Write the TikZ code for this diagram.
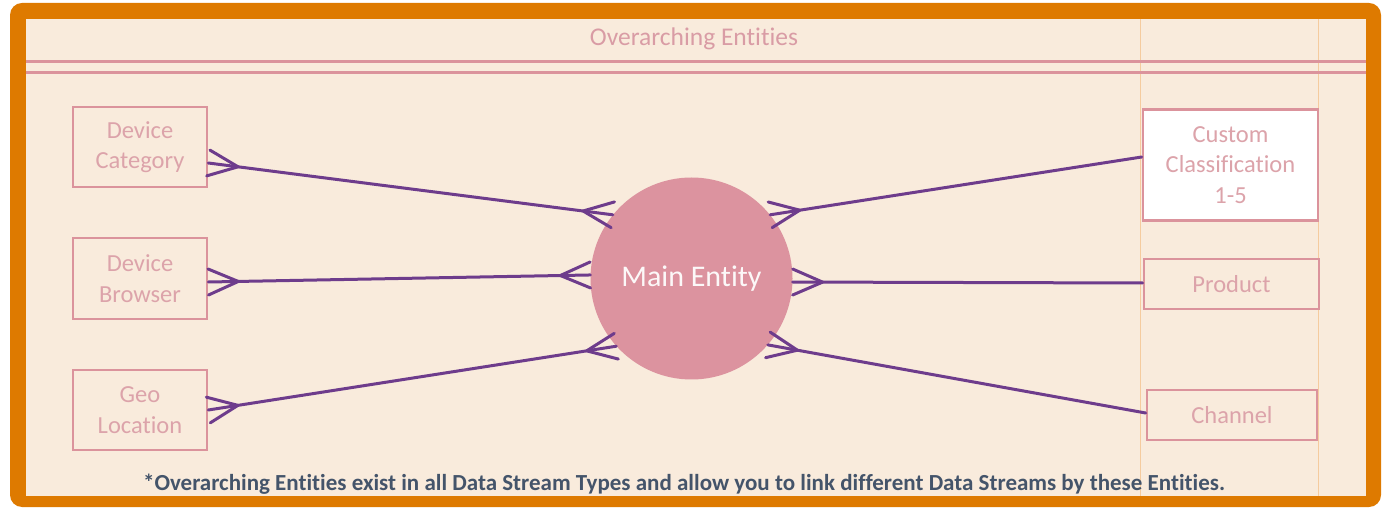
\documentclass[tikz,border=0pt]{standalone}
\usepackage{fontspec}
\setmainfont{Carlito}[RawFeature={-liga}]
\usetikzlibrary{calc}
\definecolor{frameorange}{HTML}{DE7A00}
\definecolor{cream}{HTML}{F9EBDC}
\definecolor{pinkline}{HTML}{DB939C}
\definecolor{pinktext}{HTML}{DCA3AA}
\definecolor{circfill}{HTML}{DC939F}
\definecolor{linkpurple}{HTML}{6E3C8C}
\definecolor{titlepink}{HTML}{D99CA5}
\definecolor{notecol}{HTML}{44546A}
\definecolor{guide}{HTML}{F5CB9E}
\tikzset{
  ent/.style={draw=pinkline, line width=2.6pt, text=pinktext, align=center, inner sep=0pt,
    font=\fontsize{24.5}{30.5}\selectfont},
  link/.style={draw=linkpurple, line width=3pt, line cap=round, line join=round},
}
\newcommand\crowfoot[2]{%
  \draw[link] ($(#1)!30pt!(#2)$) -- ($(#1)!13pt!90:(#2)$)
              ($(#1)!30pt!(#2)$) -- ($(#1)!13pt!-90:(#2)$);}
\begin{document}
\begin{tikzpicture}[x=1pt,y=-1pt]
\useasboundingbox (0,0) rectangle (1390,510);
% frame
\fill[frameorange, rounded corners=12pt] (10,3) rectangle (1381,507);
\fill[cream] (26,19) rectangle (1366,496);
% faint guides
\draw[guide, line width=0.6pt] (1140,19) -- (1140,496);
\draw[guide, line width=0.6pt] (1318,19) -- (1318,496);
% title and double rule
\node[text=titlepink, font=\fontsize{25.5}{30}\selectfont] (title) at (694,39) {Overarching Entities};
\draw[pinkline, line width=3pt] (26,62) -- (1366,62);
\draw[pinkline, line width=3pt] (26,73) -- (1366,73);
% entities
\node[ent, minimum width=134pt, minimum height=80pt] (dc) at (140,147) {Device\\Category};
\node[ent, minimum width=134pt, minimum height=81pt] (db) at (140,278.5) {Device\\Browser};
\node[ent, minimum width=134pt, minimum height=80pt] (geo) at (140,410) {Geo\\Location};
\node[ent, fill=white, minimum width=175pt, minimum height=111pt] (cc) at (1230.5,165) {Custom\\Classification\\1-5};
\node[ent, minimum width=175pt, minimum height=50pt] (prod) at (1231.5,284) {Product};
\node[ent, minimum width=170pt, minimum height=50pt] (chan) at (1232,415) {Channel};
\node[circle, fill=circfill, minimum size=202pt, inner sep=0pt, text=white!92!pinktext,
  font=\fontsize{30}{34}\selectfont] (main) at (691.5,278.5) {Main Entity};
% connection points
\coordinate (dcA) at ($(dc.east)+(0,16)$);
\coordinate (dcB) at (main.141.8);
\coordinate (dbA) at ($(db.east)+(0,3.5)$);
\coordinate (dbB) at (main.178);
\coordinate (geoA) at (geo.east);
\coordinate (geoB) at (main.222);
\coordinate (ccA) at ($(cc.west)+(0,-8)$);
\coordinate (ccB) at (main.39);
\coordinate (prodA) at ($(prod.west)+(0,-1)$);
\coordinate (prodB) at (main.-2.5);
\coordinate (chanA) at ($(chan.west)+(0,-2)$);
\coordinate (chanB) at (main.-41.5);
% links
\foreach \a/\b in {dcA/dcB, dbA/dbB, geoA/geoB}{
  \draw[link] (\a) -- (\b);
  \crowfoot{\a}{\b}
  \crowfoot{\b}{\a}
}
\foreach \a/\b in {ccA/ccB, prodA/prodB, chanA/chanB}{
  \draw[link] (\a) -- (\b);
  \crowfoot{\b}{\a}
}
% note
\node[text=notecol, font=\bfseries\fontsize{23}{27}\selectfont] (note) at (684,484)
  {*Overarching Entities exist in all Data Stream Types and allow you to link different Data Streams by these Entities.};
\end{tikzpicture}
\end{document}
